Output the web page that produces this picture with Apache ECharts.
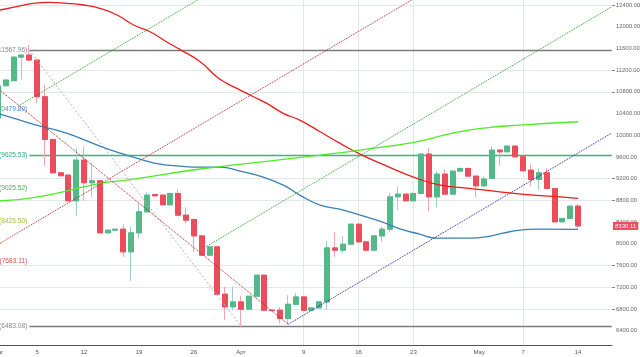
<!DOCTYPE html>
<html><head><meta charset="utf-8">
<script src="https://cdn.jsdelivr.net/npm/echarts@6/dist/echarts.min.js"></script>
<style>html,body{margin:0;padding:0;background:#fff;overflow:hidden}#c{width:640px;height:357px}</style>
</head><body><div id="c"></div>
<script>
// ---- data (day index: 0 = Mar 1 2018) ----
const days = [0,1,2,3,4,5,6,7,8,9,10,11,12,13,14,15,16,17,18,19,20,21,22,23,24,25,26,27,28,29,30,31,32,33,34,35,36,37,38,39,40,41,42,43,44,45,46,47,48,49,50,51,52,53,54,55,56,57,58,59,60,61,62,63,64,65,66,67,68,69,70,71,72,73,74];
const openP  = [10317,10912,11005,11440,11478,11386,10710,9924,9309,9266,8793,9543,9125,9162,8203,8253,8271,7853,8203,8590,8910,8898,8719,8929,8529,8450,8147,7792,7945,7073,6839,6931,6796,7036,7423,6778,6778,6625,6888,7023,6778,6820,6931,7926,7884,7994,8363,8037,7884,8147,8271,8866,8916,8793,8929,9654,8866,9285,8916,9340,9390,9248,9069,9208,9727,9696,9801,9604,9358,9187,9309,9021,8406,8468,8695];
const closeP = [10912,11018,11440,11478,11386,10710,9924,9309,9254,8793,9543,9125,9162,8203,8253,8270,7853,8203,8590,8898,8885,8719,8929,8529,8437,8147,7792,7945,7073,6839,6931,6796,7036,7423,6778,6770,6625,6888,7023,6778,6820,6931,7926,7884,7994,8363,8037,7884,8147,8271,8866,8916,8793,8929,9654,8866,9285,8916,9340,9390,9248,9069,9193,9727,9696,9801,9604,9346,9187,9309,9021,8406,8468,8695,8330.11];
const lowP   = [10317,10912,11005,11030,11386,10588,9432,9309,9254,8793,8516,8793,8866,8203,8203,8253,7760,7318,8100,8590,8885,8719,8719,8529,8376,7853,7792,7792,7073,6594,6778,6459,6796,7036,6778,6760,6532,6514,6888,6778,6778,6820,6778,7760,7834,7994,8037,7884,7884,8037,8221,8621,8793,8793,8929,8608,8671,8916,8916,9340,9248,8855,9069,9208,9451,9696,9604,9346,9064,8997,9021,8406,8406,8468,8284];
const highP  = [10912,11018,11440,11490,11663,11386,10925,9924,9309,9266,9758,9800,9493,9162,8253,8270,8358,8313,8745,8950,8910,8898,8929,9003,8671,8450,8147,7945,7945,7208,7208,7036,7036,7423,7423,6800,6839,7054,7097,7023,6820,6931,8055,8221,8142,8363,8363,8037,8147,8313,8940,9051,8916,8929,9654,9770,9346,9377,9340,9390,9390,9248,9248,9800,9750,9801,9801,9604,9463,9390,9390,9021,8468,8695,8726];
const lastPrice = 8330.11;

// moving averages: [day, value]
const maRed  = [[0.27,12308],[2.4,12369],[4.5,12431],[6.6,12450],[8.8,12431],[10.9,12400],[13.0,12339],[15.2,12216],[17.3,12031],[19.4,11908],[21.5,11724],[23.2,11583],[25.8,11355],[27.9,11078],[29.2,10957],[30.9,10833],[32.6,10710],[34.3,10587],[36.4,10404],[38.5,10280],[41.1,10065],[43.6,9856],[46.2,9654],[49.6,9432],[53,9230],[56.4,9082],[59.8,9027],[64,8959],[68.3,8898],[71.7,8866],[74,8837]];
const maBlue = [[0.27,10391],[2.82,10280],[5.37,10170],[7.92,10077],[10.47,9948],[13.02,9801],[15.57,9672],[18.13,9561],[20.68,9469],[23.23,9432],[25.78,9414],[28.33,9414],[30.88,9340],[33.43,9248],[36.4,9082],[38.5,8898],[41.1,8714],[43.6,8640],[46.2,8529],[48.7,8419],[51.3,8276],[53.8,8179],[56.0,8105],[60.2,8105],[62.4,8133],[64.4,8197],[66.6,8253],[68.8,8271],[74,8266]];
const maLime = [[0.27,8790],[5.37,8870],[13.02,9116],[16.4,9174],[25.78,9379],[33.4,9506],[41.1,9635],[46.2,9727],[53.4,9880],[58.0,10041],[62.3,10138],[66.6,10188],[74,10249]];

// fibonacci levels
const fibValues = [11567.96,10479.80,9625.53,9025.52,8425.50,7683.11,6483.08];
const fibLabels = ['(11567.96)','(10479.80)','(9625.53)','(9025.52)','(8425.50)','(7683.11)','(6483.08)'];
const fibStartDay = 4;

// drawn trend lines: [[day, value], [day, value]]
const fibDiagonal = [[4,11567.96],[31,6483.08]];
const redDown   = [[0.27,10830],[37.04,6520]];
const redUp     = [[0.27,8011],[55,12682]];
const greenUp   = [[2.6,10540],[28,12708]];
const greenLow  = [[26.5,7945],[78.33,12369]];
const blueLine  = [[37.04,6520],[78.33,10044]];

// axes
const xTickDays   = [0.32,5,11,18,25,31,39,46,53,61.4,67,74];
const xTickLabels = ['Mar','5','12','19','26','Apr','9','16','23','May','7','14'];
const yTicks = [6400,6800,7200,7600,8000,8400,8800,9200,9600,10000,10400,10800,11200,11600,12000,12400];
const gridY = [6800,7200,7600,8800,9200,10800,11200,12400];
const gridX = [39,46,53,67];

// ---- chart ----
const xMin = 0.27, xMax = 78.33, yMin = 6128, yMax = 12492;
const FONT = '"Liberation Sans", Arial, sans-serif';
const CLEAR = 'rgba(0,0,0,0)';
const ohlc = days.map((d,i)=>[d, openP[i], closeP[i], lowP[i], highP[i]]);
const bodies = days.map((d,i)=>[d, openP[i], closeP[i], Math.min(openP[i],closeP[i]), Math.max(openP[i],closeP[i])]);

const fibStyle = [
  {line:'#7b7b7b', text:'#8a8a8a', show:true},
  {line:'#4a90d0', text:'#4a90d0', show:false},
  {line:'#3cb37a', text:'#2eaa78', show:true},
  {line:'#4caf50', text:'#4caf50', show:false},
  {line:'#a0c040', text:'#a8c23a', show:false},
  {line:'#e05050', text:'#e05050', show:false},
  {line:'#7b7b7b', text:'#8a8a8a', show:true}
];
const fibMarks = fibValues.map((v,i)=>[
  {coord:[fibStartDay, v], lineStyle:{color: fibStyle[i].show ? fibStyle[i].line : CLEAR, width:1.3, type:'solid'},
   label:{show:true, position:'start', distance:2, formatter:fibLabels[i], color:fibStyle[i].text, fontSize:6.6, fontFamily:FONT}},
  {coord:[78.3, v]}
]);

function tline(data, color, type){
  return {type:'line', data:data, showSymbol:false, silent:true, z:6,
    lineStyle:{color:color, width:1, type:type}};
}
function maLine(data, color){
  return {type:'line', data:data, showSymbol:false, smooth:true, silent:true, z:5,
    lineStyle:{color:color, width:1.3}};
}

const chart = echarts.init(document.getElementById('c'));
chart.setOption({
  animation:false,
  grid:{left:0, right:28, top:0, bottom:11.5, containLabel:false, outerBoundsMode:'none'},
  xAxis:{type:'value', min:xMin, max:xMax,
    splitLine:{show:false},
    axisLine:{show:true, onZero:false, lineStyle:{color:'#555', width:1}},
    axisTick:{show:false},
    axisLabel:{customValues:xTickDays, showMinLabel:true, color:'#555', fontSize:6, fontFamily:FONT, margin:4,
      formatter:function(v){
        let best=0; for(let i=0;i<xTickDays.length;i++){ if(Math.abs(xTickDays[i]-v)<Math.abs(xTickDays[best]-v)) best=i; }
        return best===0 ? '{m|'+xTickLabels[0]+'}' : xTickLabels[best];
      },
      rich:{m:{padding:[0,5,0,0], fontSize:6, color:'#555', fontFamily:FONT}}
    }
  },
  yAxis:{type:'value', position:'right', min:yMin, max:yMax,
    splitLine:{show:false},
    axisLine:{show:false},
    axisTick:{show:true, customValues:gridY, length:3, lineStyle:{color:'#888'}},
    axisLabel:{customValues:yTicks, formatter:v=>Number(v).toFixed(2), color:'#666', fontSize:5.8, fontFamily:FONT, margin:4}
  },
  series:[
    {type:'line', data:[], silent:true, z:1,
      markLine:{silent:true, z:0, symbol:['none','none'], label:{show:false},
        lineStyle:{color:'#e2e7ec', width:1, type:'solid'},
        data:[...gridY.map(v=>({yAxis:v})), ...gridX.map(d=>({xAxis:d}))]}},
    {type:'line', data:[], silent:true, z:2,
      markLine:{silent:true, z:2, symbol:['none','none'], data:fibMarks}},
    {type:'candlestick', data:ohlc, barWidth:5.5, silent:true, z:3,
      itemStyle:{color:'#53b987', color0:'#eb4d5c', borderColor:'#9fd0c6', borderColor0:'#f5a3ae', borderWidth:1}},
    {type:'candlestick', data:bodies, barWidth:5.5, silent:true, z:4,
      itemStyle:{color:'#53b987', color0:'#eb4d5c', borderColor:'#53b987', borderColor0:'#eb4d5c', borderWidth:1},
      markLine:{silent:true, z:8, symbol:['none','none'],
        lineStyle:{color:CLEAR, width:0},
        label:{show:true, position:'end', distance:1, formatter:lastPrice.toFixed(2), color:'#fff',
          backgroundColor:'#eb4d5c', padding:[1,2,1,2], fontSize:6, fontFamily:FONT},
        data:[{yAxis:lastPrice}]}},
    maLine(maRed, '#f01c1c'),
    maLine(maBlue, '#3a80b8'),
    maLine(maLime, '#4ded24'),
    tline(fibDiagonal, '#b4b4b4', [2,2]),
    tline(redDown, '#b71c1c', 'dotted'),
    tline(redUp, '#b71c1c', 'dotted'),
    tline(greenUp, '#1f9d1f', 'dotted'),
    tline(greenLow, '#1f9d1f', 'dotted'),
    tline(blueLine, '#1c1ca8', 'dotted')
  ]
});
</script>
</body></html>
